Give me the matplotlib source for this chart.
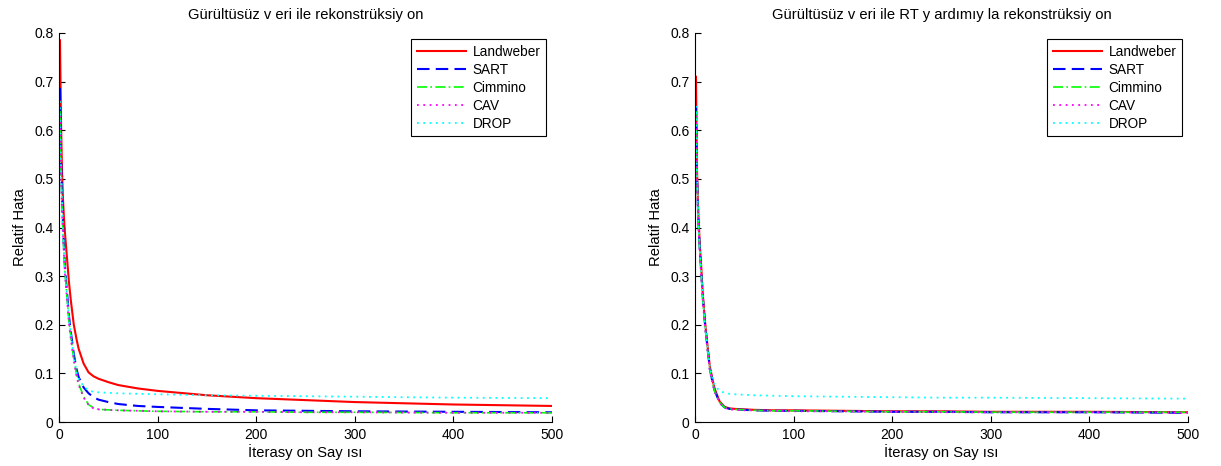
import numpy as np
import matplotlib.pyplot as plt

plt.rcParams['font.family'] = ['Liberation Sans', 'DejaVu Sans']

# iterasyon noktalari (her iki grafik icin ortak)
iters = [1, 2, 3, 4, 5, 6, 8, 10, 12, 15, 18, 20, 25, 30, 35, 40, 50, 60, 80,
         100, 150, 200, 250, 300, 400, 500]

# sol: gurultusuz veri ile rekonstruksiyon
left_landweber = [0.785, 0.62, 0.52, 0.46, 0.42, 0.39, 0.34, 0.29, 0.25, 0.20, 0.168, 0.15,
                  0.12, 0.102, 0.094, 0.089, 0.082, 0.076, 0.069, 0.064, 0.055, 0.049,
                  0.045, 0.041, 0.036, 0.033]
left_sart = [0.687, 0.55, 0.47, 0.41, 0.36, 0.32, 0.27, 0.22, 0.185, 0.14, 0.107, 0.092,
             0.071, 0.059, 0.051, 0.046, 0.041, 0.037, 0.033, 0.031, 0.027, 0.024,
             0.023, 0.022, 0.021, 0.020]
left_cimmino = [0.64, 0.52, 0.45, 0.39, 0.35, 0.31, 0.26, 0.21, 0.175, 0.13, 0.095, 0.079,
                0.052, 0.036, 0.029, 0.026, 0.025, 0.024, 0.023, 0.022, 0.021, 0.021,
                0.020, 0.020, 0.019, 0.019]
left_cav = [0.63, 0.51, 0.44, 0.385, 0.345, 0.305, 0.255, 0.205, 0.17, 0.127, 0.092, 0.076,
            0.05, 0.035, 0.028, 0.026, 0.025, 0.024, 0.023, 0.022, 0.021, 0.021,
            0.020, 0.020, 0.019, 0.019]
left_drop = [0.66, 0.53, 0.46, 0.40, 0.355, 0.315, 0.265, 0.215, 0.18, 0.135, 0.10, 0.089,
             0.073, 0.065, 0.062, 0.061, 0.060, 0.059, 0.058, 0.057, 0.055, 0.054,
             0.053, 0.052, 0.050, 0.049]

# sag: RT yardimiyla rekonstruksiyon
right_landweber = [0.71, 0.52, 0.45, 0.40, 0.36, 0.33, 0.26, 0.21, 0.17, 0.115, 0.085, 0.068,
                   0.042, 0.031, 0.028, 0.027, 0.026, 0.025, 0.024, 0.024, 0.023, 0.022,
                   0.022, 0.021, 0.021, 0.020]
right_sart = [0.65, 0.51, 0.44, 0.39, 0.35, 0.32, 0.255, 0.205, 0.165, 0.11, 0.08, 0.064,
              0.04, 0.030, 0.027, 0.026, 0.025, 0.024, 0.023, 0.023, 0.022, 0.021,
              0.021, 0.020, 0.020, 0.019]
right_cimmino = [0.64, 0.50, 0.435, 0.385, 0.345, 0.315, 0.25, 0.20, 0.162, 0.108, 0.079, 0.063,
                 0.04, 0.030, 0.027, 0.026, 0.025, 0.024, 0.023, 0.023, 0.022, 0.021,
                 0.021, 0.020, 0.020, 0.020]
right_cav = [0.63, 0.495, 0.43, 0.38, 0.34, 0.31, 0.247, 0.198, 0.16, 0.106, 0.078, 0.062,
             0.039, 0.029, 0.026, 0.025, 0.024, 0.024, 0.023, 0.022, 0.022, 0.021,
             0.020, 0.020, 0.020, 0.019]
right_drop = [0.65, 0.51, 0.44, 0.39, 0.35, 0.32, 0.255, 0.205, 0.168, 0.115, 0.088, 0.075,
              0.064, 0.060, 0.058, 0.057, 0.056, 0.055, 0.054, 0.053, 0.052, 0.051,
              0.050, 0.050, 0.049, 0.048]

names = ["Landweber", "SART", "Cimmino", "CAV", "DROP"]
styles = [("#ff0000", "-", 1.5), ("#0000ff", (0, (6, 3)), 1.5),
          ("#00ff00", (0, (6, 2, 1, 2)), 1.2), ("#ff00ff", (0, (1, 2.5)), 1.3),
          ("#00ffff", (0, (1, 2.5)), 1.3)]

titles = ["Gürültüsüz v eri ile rekonstrüksiy on",
          "Gürültüsüz v eri ile RT y ardımıy la rekonstrüksiy on"]
xlabel = "İterasy on Say ısı"
ylabel = "Relatif Hata"

fig = plt.figure(figsize=(12.21, 4.66), dpi=100)
ax_l = fig.add_axes([59 / 1221, 44 / 466, 493 / 1221, 389 / 466])
ax_r = fig.add_axes([695 / 1221, 44 / 466, 493 / 1221, 389 / 466])

panels = [
    (ax_l, [left_landweber, left_sart, left_cimmino, left_cav, left_drop]),
    (ax_r, [right_landweber, right_sart, right_cimmino, right_cav, right_drop]),
]

for (ax, series), title in zip(panels, titles):
    for vals, name, (col, ls, lw) in zip(series, names, styles):
        ax.plot(iters, vals, color=col, linestyle=ls, linewidth=lw, label=name)
    ax.set_xlim(0, 500)
    ax.set_ylim(0, 0.8)
    ax.set_xticks([0, 100, 200, 300, 400, 500])
    ax.set_yticks(np.arange(0, 0.81, 0.1))
    ax.set_yticklabels(["0", "0.1", "0.2", "0.3", "0.4", "0.5", "0.6", "0.7", "0.8"])
    ax.tick_params(direction="in", labelsize=10, length=4, width=0.8, pad=4)
    for s in ("top", "right"):
        ax.spines[s].set_visible(False)
    ax.set_title(title, fontsize=10.6, pad=10)
    ax.set_xlabel(xlabel, fontsize=10.6, labelpad=2)
    ax.set_ylabel(ylabel, fontsize=10.6, labelpad=5)
    leg = ax.legend(loc="upper right", fontsize=9.8, handlelength=3.6,
                    fancybox=False, edgecolor="black", framealpha=1,
                    borderaxespad=0.45, labelspacing=0.3, borderpad=0.4,
                    handletextpad=0.5)
    leg.get_frame().set_linewidth(0.8)

fig.savefig("out.png", dpi=100)
